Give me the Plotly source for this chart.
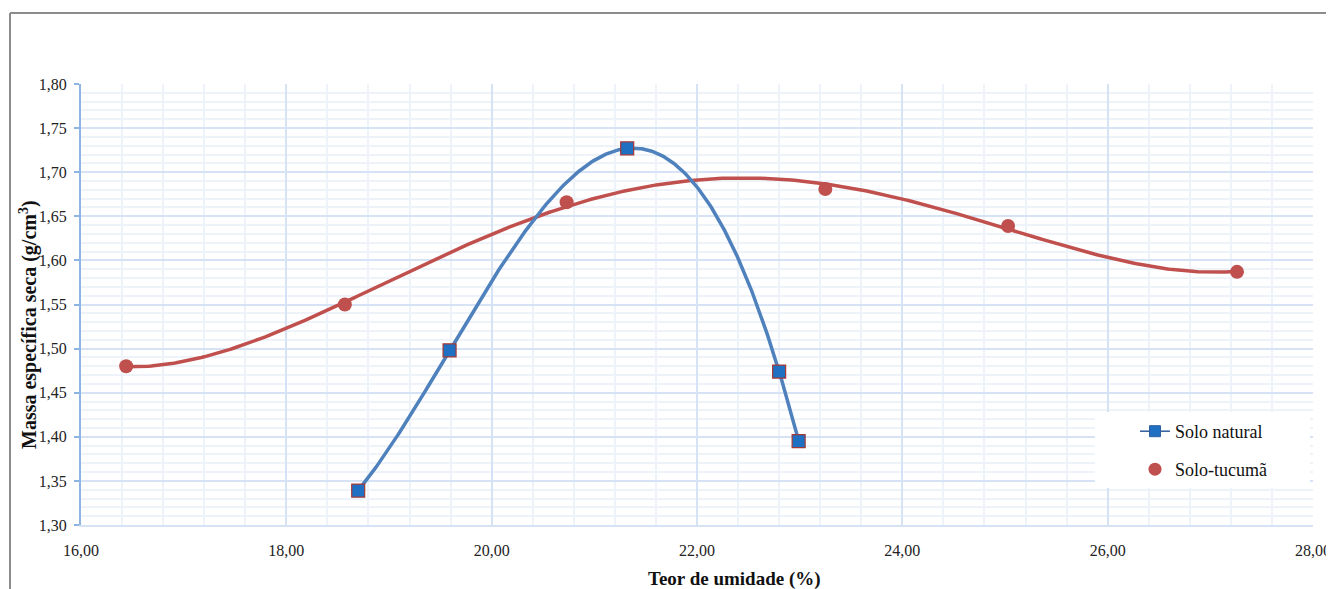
import numpy as np
import plotly.graph_objects as go

# Data
natural_x = [18.70, 19.59, 21.32, 22.80, 22.99]
natural_y = [1.339, 1.498, 1.727, 1.474, 1.395]
tucuma_x = [16.44, 18.57, 20.73, 23.25, 25.03, 27.26]
tucuma_y = [1.480, 1.550, 1.666, 1.681, 1.639, 1.587]
x_tick_vals = [16, 18, 20, 22, 24, 26, 28]
y_tick_vals = [1.30, 1.35, 1.40, 1.45, 1.50, 1.55, 1.60, 1.65, 1.70, 1.75, 1.80]

# Polynomial trendlines (degree 4) fitted to the data
def trend(xs, ys, deg=4, n=400):
    c = np.polyfit(xs, ys, deg)
    xx = np.linspace(min(xs), max(xs), n)
    return xx, np.polyval(c, xx)

nx, ny = trend(natural_x, natural_y)
tx, ty = trend(tucuma_x, tucuma_y)

FONT = "Liberation Serif"
BLUE_LINE = "#4F81BD"
RED = "#C0504D"
BLUE_MARK = "#1F6FC2"

# page body has an 8px margin: work in screen pixels, convert
OFF = 8
W, H = 1334 - OFF, 589 - OFF
PL, PR, PT, PB = 81, 1313, 84, 525   # plot area in screen pixels
L, T = PL - OFF, PT - OFF
R, B = W - (PR - OFF), H - (PB - OFF)
pw, ph = PR - PL, PB - PT

def px(x):
    return (x - PL) / pw

def py(y):
    return (PB - y) / ph

fig = go.Figure()

fig.add_trace(go.Scatter(x=tx, y=ty, mode="lines", line=dict(color=RED, width=3.5),
                         showlegend=False, hoverinfo="skip"))
fig.add_trace(go.Scatter(x=nx, y=ny, mode="lines", line=dict(color=BLUE_LINE, width=3.5),
                         showlegend=False, hoverinfo="skip"))
fig.add_trace(go.Scatter(x=natural_x, y=natural_y, mode="markers",
                         marker=dict(symbol="square", size=13, color=BLUE_MARK,
                                     line=dict(color="#A33A36", width=1.2)),
                         showlegend=False))
fig.add_trace(go.Scatter(x=tucuma_x, y=tucuma_y, mode="markers",
                         marker=dict(symbol="circle", size=14, color=RED,
                                     line=dict(color=RED, width=0)),
                         showlegend=False))
# legend entries
fig.add_trace(go.Scatter(x=[None], y=[None], mode="lines+markers", name="Solo natural",
                         legend="legend",
                         line=dict(color="#2F5E9E", width=1.5),
                         marker=dict(symbol="square", size=11, color=BLUE_MARK,
                                     line=dict(color="#2F5E9E", width=1))))
fig.add_trace(go.Scatter(x=[None], y=[None], mode="markers", name="Solo-tucumã",
                         legend="legend2",
                         marker=dict(symbol="circle", size=13, color=RED)))

axis_common = dict(
    showgrid=True, gridcolor="#D5E3F4", gridwidth=1.5,
    zeroline=False, tickformat=".2f", automargin=False,
    tickfont=dict(family=FONT, size=16, color="#222222"),
)

fig.update_xaxes(range=[16, 28], tickvals=x_tick_vals, **axis_common,
                 showline=True, linecolor="#D5E3F4", linewidth=1.5,
                 ticks="", ticklabelstandoff=10,
                 minor=dict(dtick=0.4, showgrid=True, gridcolor="#EEF3FA", gridwidth=1.5))
fig.update_yaxes(range=[1.30, 1.80], tickvals=y_tick_vals, **axis_common,
                 showline=True, linecolor="#8EB4E3", linewidth=2,
                 ticks="outside", ticklen=5, tickcolor="#8EB4E3", tickwidth=1.5,
                 ticklabelstandoff=4,
                 minor=dict(dtick=0.01, showgrid=True, gridcolor="#EEF3FA", gridwidth=1.5))

shapes = [
    # legend background box (over the grid, no traces in this area)
    dict(type="rect", xref="paper", yref="paper", layer="above",
         x0=px(1095), x1=px(1310), y0=py(488), y1=py(412),
         fillcolor="white", line=dict(width=0)),
    # outer border (top and left)
    dict(type="line", xref="paper", yref="paper", x0=px(10), x1=px(1345),
         y0=py(13), y1=py(13), line=dict(color="#8C8C8C", width=2)),
    dict(type="line", xref="paper", yref="paper", x0=px(10), x1=px(10),
         y0=py(13), y1=py(600), line=dict(color="#8C8C8C", width=2)),
]

annotations = [
    dict(text="<b>Teor de umidade (%)</b>", xref="paper", yref="paper",
         x=px(734), y=py(579), showarrow=False, xanchor="center", yanchor="middle",
         font=dict(family=FONT, size=19, color="#111111")),
    dict(text="<b>Massa específica seca (g/cm<sup>3</sup>)</b>", xref="paper", yref="paper",
         x=px(28), y=py(325), showarrow=False, xanchor="center", yanchor="middle",
         textangle=-90, font=dict(family=FONT, size=20, color="#111111")),
]

leg_common = dict(xanchor="left", yanchor="top", bgcolor="rgba(0,0,0,0)", borderwidth=0,
                  font=dict(family=FONT, size=18, color="#111111"), itemwidth=30)

fig.update_layout(
    width=W, height=H,
    margin=dict(l=L, r=R, t=T, b=B, autoexpand=False),
    paper_bgcolor="white", plot_bgcolor="white",
    separators=",.",
    shapes=shapes, annotations=annotations,
    legend=dict(x=px(1135), y=py(413), **leg_common),
    legend2=dict(x=px(1135), y=py(451), **leg_common),
)

fig.write_html("out.html")
